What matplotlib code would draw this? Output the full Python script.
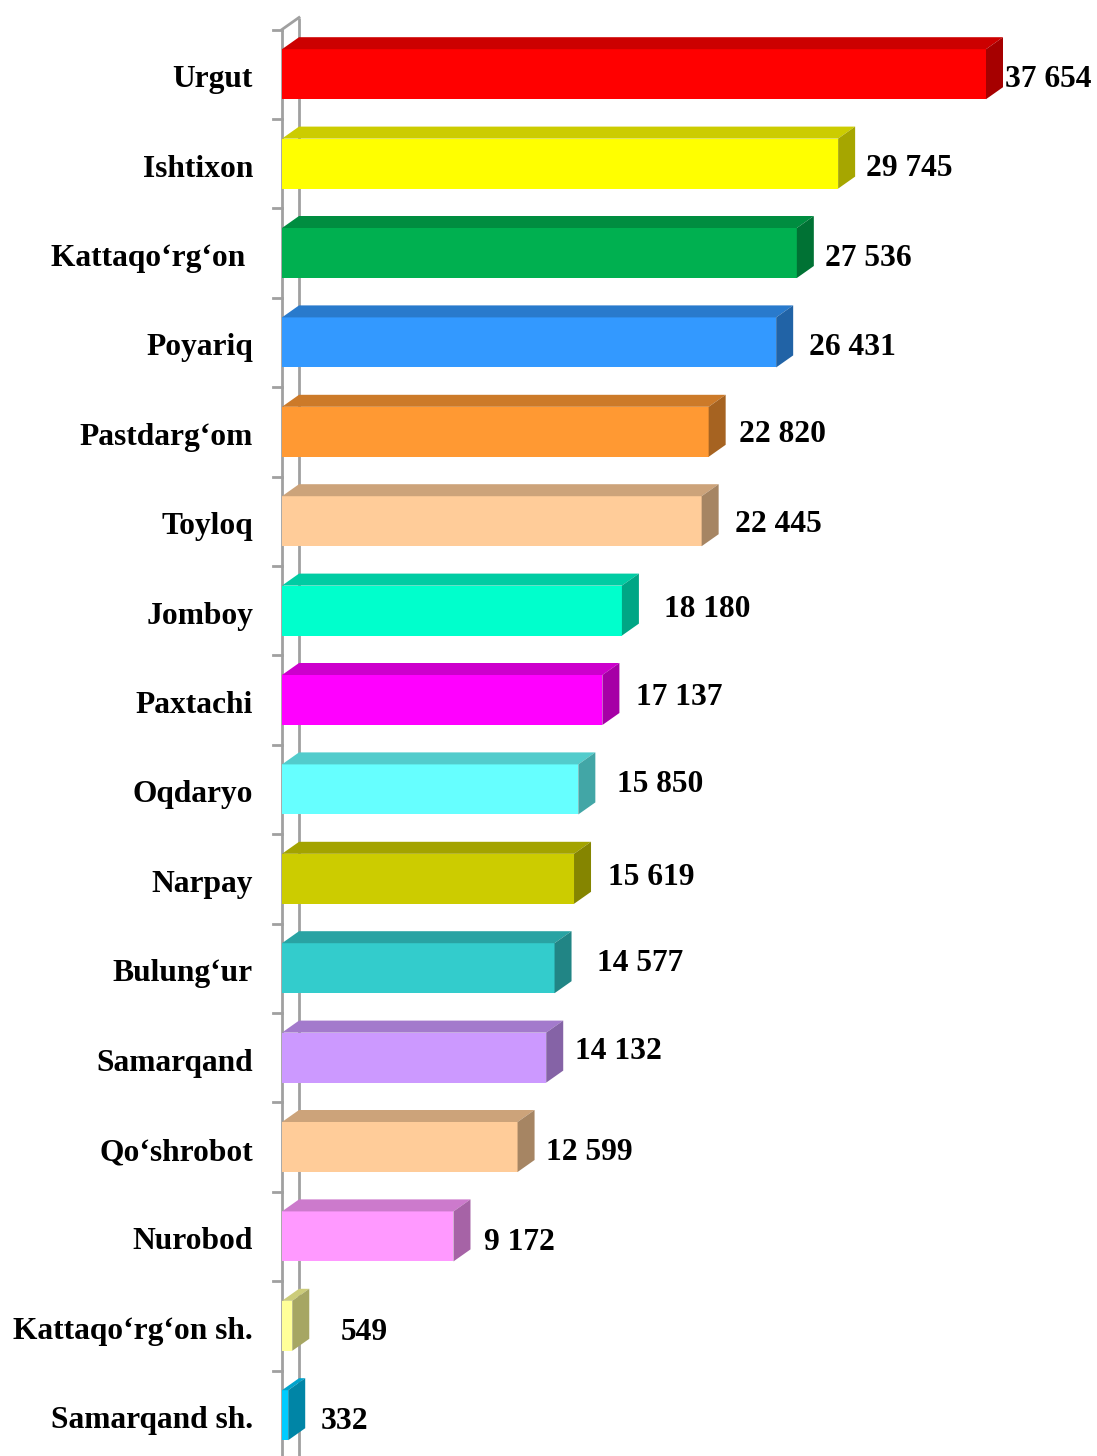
import matplotlib
matplotlib.use("Agg")
import matplotlib.pyplot as plt
from matplotlib.patches import Polygon
import matplotlib.colors as mcolors

categories = ["Urgut", "Ishtixon", "Kattaqo‘rg‘on ", "Poyariq", "Pastdarg‘om", "Toyloq",
              "Jomboy", "Paxtachi", "Oqdaryo", "Narpay", "Bulung‘ur", "Samarqand",
              "Qo‘shrobot", "Nurobod", "Kattaqo‘rg‘on sh.", "Samarqand sh."]
values = [37654, 29745, 27536, 26431, 22820, 22445, 18180, 17137, 15850, 15619,
          14577, 14132, 12599, 9172, 549, 332]
value_labels = ["37 654", "29 745", "27 536", "26 431", "22 820", "22 445", "18 180",
                "17 137", "15 850", "15 619", "14 577", "14 132", "12 599", "9 172",
                "549", "332"]
colors = ["#FF0000", "#FFFF00", "#00B050", "#3399FF", "#FF9933", "#FFCC99", "#00FFCC",
          "#FF00FF", "#66FFFF", "#CCCC00", "#33CCCC", "#CC99FF", "#FFCC99", "#FF99FF",
          "#FFFF99", "#00CCFF"]
# manual label offsets (pixels) from bar front end, as in the reference
label_dx = [19, 28, 28, 33, 30, 33, 42, 34, 39, 34, 42, 29, 28, 31, 48, 32]
label_dy = [-2, -1, -2, -2, 1, 0, 5, 6, 8, 5, 8, 10, -2, -3, -3, -3]

W, H, DPI = 1097, 1456, 100
fig = plt.figure(figsize=(W / DPI, H / DPI), dpi=DPI)

x0_px = 282
scale = 704 / 37654.0  # px per unit
top_px = 29.5
step_px = 89.4
n = len(categories)
ax_h_px = n * step_px
xmax = (W - x0_px) / scale
ax = fig.add_axes([x0_px / W, (H - top_px - ax_h_px) / H, (W - x0_px) / W, ax_h_px / H])
ax.set_xlim(0, xmax)
ax.set_ylim(n - 0.5, -0.5)
ax.axis("off")

dx = 17 / scale
dy = 12 / step_px
bh = 50 / step_px

def shade(c, f):
    r, g, b = mcolors.to_rgb(c)
    return (r * f, g * f, b * f)

# axis wall
wall = "#A0A0A0"
ax.plot([0, 0], [-0.5, n + 0.5], color=wall, lw=2, clip_on=False, solid_capstyle="butt")
ax.plot([dx, dx], [-0.5 - dy, n + 0.5], color=wall, lw=2, clip_on=False, solid_capstyle="butt")
ax.plot([0, dx], [-0.5, -0.5 - dy], color=wall, lw=2, clip_on=False)
tick_len = 9 / scale
for k in range(n + 1):
    ax.plot([-tick_len, 0], [k - 0.5, k - 0.5], color=wall, lw=2, clip_on=False)

for i, (v, c) in enumerate(zip(values, colors)):
    yt = i - bh / 2
    yb = i + bh / 2
    ax.barh(i, v, height=bh, left=0, color=c, edgecolor="none", zorder=3)
    top = Polygon([(0, yt), (v, yt), (v + dx, yt - dy), (dx, yt - dy)], closed=True,
                  facecolor=shade(c, 0.8), edgecolor="none", zorder=3)
    side = Polygon([(v, yt), (v + dx, yt - dy), (v + dx, yb - dy), (v, yb)], closed=True,
                   facecolor=shade(c, 0.65), edgecolor="none", zorder=3)
    ax.add_patch(top)
    ax.add_patch(side)
    ax.annotate(value_labels[i], xy=(v, i), xytext=(label_dx[i], label_dy[i]),
                textcoords="offset pixels", ha="left", va="center_baseline",
                fontsize=22.7, fontweight="bold", family="Liberation Serif", color="black")
    ax.annotate(categories[i], xy=(0, i), xytext=(-29, -2),
                textcoords="offset pixels", ha="right", va="center_baseline",
                fontsize=22.7, fontweight="bold", family="Liberation Serif", color="black")

fig.savefig("out.png", dpi=DPI)
